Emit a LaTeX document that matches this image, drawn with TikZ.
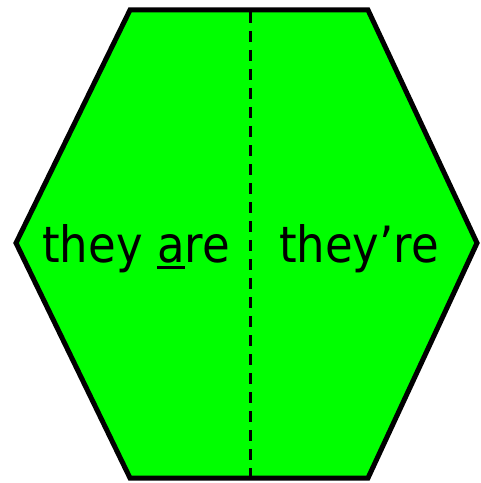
\documentclass[tikz,border=0pt]{standalone}
\usepackage{fontspec}
\setmainfont[FakeStretch=0.9]{DejaVu Sans}
\usetikzlibrary{positioning}

\definecolor{hexgreen}{RGB}{0,255,0}

% underlined letter, rule drawn by hand so it scales with the font
\newlength{\ulwd}
\newcommand{\ulletter}[1]{\settowidth{\ulwd}{#1}\makebox[0pt][l]{\rule[-0.13em]{\ulwd}{0.06em}}#1}

\tikzset{
  wordlabel/.style={anchor=base, inner sep=0pt, font=\fontsize{50bp}{60bp}\selectfont},
  hexedge/.style={draw=black, line width=5bp, line join=miter, fill=hexgreen},
  foldline/.style={line width=3bp, dash pattern=on 11bp off 8bp}
}

\begin{document}
\begin{tikzpicture}[x=1bp,y=-1bp]
            % Keep the page the size of the reference
            \useasboundingbox (0,0) rectangle (481,483);

            % The hexagon, filled green
            \coordinate (tl) at (130,10);
            \coordinate (tr) at (368,10);
            \coordinate (rr) at (477,243);
            \coordinate (br) at (368,478);
            \coordinate (bl) at (130,478);
            \coordinate (ll) at (16,243);
            \draw[hexedge] (tl) -- (tr) -- (rr) -- (br) -- (bl) -- (ll) -- cycle;

            % Dashed fold down the middle
            \coordinate (foldtop) at (250,12);
            \coordinate (foldbot) at (250,476);
            \draw[foldline] (foldtop) -- (foldbot);

            % The two labels
            \node[wordlabel] (longform) at (136,262) {they \ulletter{a}re};
            \node[wordlabel] (shortform) at (359,262) {they’re};
\end{tikzpicture}
\end{document}
